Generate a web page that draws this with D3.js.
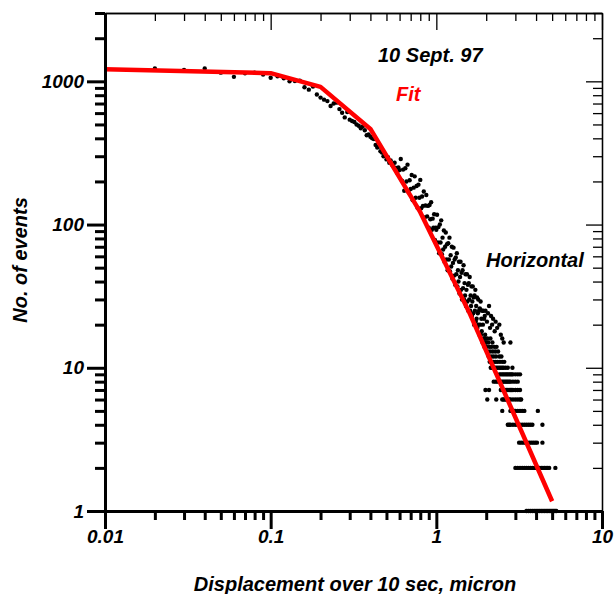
<!DOCTYPE html>
<html>
<head>
<meta charset="utf-8">
<script src="https://cdn.jsdelivr.net/npm/d3@7/dist/d3.min.js"></script>
<style>
  html, body { margin: 0; padding: 0; background: #fff; }
  text { font-family: "Liberation Sans", Arial, Helvetica, sans-serif; font-weight: bold; font-style: italic; }
</style>
</head>
<body>
<div id="chart"></div>
<script>
"use strict";

// histogram of displacements (one point per 0.01 micron bin)
var plateau = [
    [0.02, 1230], [0.03, 1200], [0.04, 1230], [0.05, 1150], [0.06, 1075], [0.07, 1140],
    [0.08, 1150], [0.09, 1115], [0.10, 1060], [0.11, 1085], [0.12, 1050], [0.13, 1000],
    [0.14, 1005], [0.15, 1010], [0.16, 910], [0.17, 875], [0.18, 920], [0.19, 810]
];

var kneeBand = [
    [0.20, 770], [0.21, 745], [0.22, 728], [0.23, 672], [0.24, 700], [0.25, 710], [0.26, 640],
    [0.27, 604], [0.28, 560], [0.29, 610], [0.30, 540], [0.31, 528], [0.32, 520], [0.33, 500],
    [0.34, 490], [0.35, 470], [0.36, 485], [0.37, 455], [0.38, 420], [0.39, 425], [0.40, 410],
    [0.41, 400], [0.42, 395], [0.43, 360], [0.44, 345], [0.45, 350], [0.46, 325], [0.47, 318],
    [0.48, 300], [0.49, 305], [0.50, 285], [0.51, 295], [0.52, 270], [0.53, 280], [0.54, 262],
    [0.55, 255], [0.56, 270], [0.57, 248], [0.58, 230], [0.59, 250], [0.60, 240], [0.61, 287],
    [0.62, 202], [0.63, 242], [0.64, 172], [0.65, 247], [0.66, 200], [0.67, 262], [0.68, 168],
    [0.69, 204], [0.70, 177], [0.71, 222], [0.72, 148], [0.73, 181], [0.74, 217], [0.75, 154],
    [0.76, 186], [0.77, 131], [0.78, 190], [0.79, 154], [0.80, 205], [0.81, 130], [0.82, 157],
    [0.83, 135], [0.84, 170], [0.85, 112], [0.86, 136], [0.87, 161], [0.88, 114], [0.89, 135],
    [0.90, 95], [0.91, 137], [0.92, 109], [0.93, 143], [0.94, 92], [0.95, 110], [0.96, 95],
    [0.97, 118], [0.98, 78], [0.99, 95]
];

var tailBand = [
    [1.00, 92], [1.01, 117], [1.02, 75], [1.03, 96], [1.04, 63], [1.05, 100], [1.06, 75], [1.07, 107],
    [1.08, 62], [1.09, 81], [1.10, 67], [1.11, 91], [1.12, 55], [1.13, 70], [1.14, 88], [1.15, 57],
    [1.16, 73], [1.17, 48], [1.18, 74], [1.19, 57], [1.20, 81], [1.21, 47], [1.22, 61], [1.23, 51],
    [1.24, 70], [1.25, 42], [1.26, 54], [1.27, 69], [1.28, 44], [1.29, 57], [1.30, 38], [1.31, 59],
    [1.32, 45], [1.33, 63], [1.34, 37], [1.35, 48], [1.36, 40], [1.37, 55], [1.38, 33], [1.39, 43],
    [1.40, 55], [1.41, 35], [1.42, 46], [1.43, 30], [1.44, 48], [1.45, 36], [1.46, 52], [1.47, 30],
    [1.48, 39], [1.49, 32], [1.50, 45], [1.51, 27], [1.52, 35], [1.53, 45], [1.54, 29], [1.55, 38],
    [1.56, 25], [1.57, 39], [1.58, 30], [1.59, 43], [1.60, 25], [1.61, 32], [1.62, 27], [1.63, 37],
    [1.64, 23], [1.65, 29], [1.66, 37], [1.67, 24], [1.68, 31], [1.69, 20], [1.70, 32], [1.71, 25],
    [1.72, 35], [1.73, 21], [1.74, 27], [1.75, 22], [1.76, 31], [1.77, 19], [1.78, 24], [1.79, 30],
    [1.80, 20], [1.81, 25], [1.82, 17], [1.83, 26], [1.84, 20], [1.85, 29], [1.86, 17], [1.87, 22],
    [1.88, 18], [1.89, 25], [1.90, 15], [1.91, 20], [1.92, 25], [1.93, 16], [1.94, 22], [1.95, 14],
    [1.96, 23], [1.97, 17], [1.98, 25], [1.99, 15]
];

var strays = [
    [2.02, 21], [2.05, 24], [2.08, 27], [2.11, 19], [2.14, 23], [2.17, 20], [2.20, 22],
    [2.25, 18], [2.28, 21], [2.33, 19], [2.40, 20], [2.45, 17], [2.50, 16], [2.55, 15], [2.80, 15]
];

// low counts: each count with the displacements where it occurs
var countRows = [
    [16, [1.96, 2.03, 2.12]],
    [15, [1.99, 2.06, 2.18]],
    [14, [2.01, 2.09, 2.15, 2.24, 2.31]],
    [13, [2.04, 2.11, 2.19, 2.27, 2.36]],
    [12, [2.07, 2.14, 2.21, 2.29, 2.40, 2.47]],
    [11, [2.10, 2.16, 2.22, 2.28, 2.34, 2.42, 2.50, 2.57]],
    [10, [2.13, 2.17, 2.21, 2.25, 2.30, 2.35, 2.40, 2.45, 2.50, 2.55, 2.62, 2.70, 2.88]],
    [9, [2.40, 2.45, 2.50, 2.55, 2.60, 2.65, 2.70, 2.75, 2.80, 2.85, 2.90, 3.00, 3.10, 3.20]],
    [8, [2.22, 2.28, 2.34, 2.40, 2.45, 2.50, 2.55, 2.60, 2.65, 2.70, 2.75, 2.80, 2.90, 3.00, 3.10]],
    [7, [1.98, 2.08, 2.45, 2.50, 2.55, 2.60, 2.65, 2.70, 2.75, 2.80, 2.85, 2.90, 3.00, 3.10, 3.20]],
    [6, [2.03, 2.30, 2.50, 2.55, 2.60, 2.65, 2.70, 2.75, 2.80, 2.90, 3.00, 3.10, 3.20, 3.25]],
    [5, [2.50, 2.80, 2.85, 2.90, 2.95, 3.00, 3.10, 3.20, 3.30, 3.40, 4.10]],
    [4, [2.70, 2.75, 2.80, 2.90, 3.00, 3.10, 3.20, 3.30, 3.40, 3.50, 3.60, 3.70, 3.80, 4.37]],
    [3, [3.16, 3.25, 3.35, 3.45, 3.55, 3.65, 3.75, 3.85, 3.95, 4.05, 4.37]],
    [2, [3.00, 3.10, 3.20, 3.30, 3.40, 3.50, 3.60, 3.70, 3.80, 3.90, 4.00, 4.10, 4.20, 4.30,
         4.40, 4.50, 4.60, 4.70, 4.80, 5.23]],
    [1, [3.50, 3.60, 3.70, 3.80, 3.90, 4.00, 4.10, 4.20, 4.30, 4.40, 4.50, 4.60, 4.70, 4.80,
         4.90, 5.00, 5.10, 5.20, 5.30]]
];

// fitted curve (red)
var fitPoints = [[0.01, 1215], [0.1, 1140], [0.2, 915], [0.4, 465], [0.8, 122], [1.6, 23.6], [5, 1.17]];

// ticks
var xMajor = [0.01, 0.1, 1, 10];
var xMinor = [0.02, 0.03, 0.04, 0.05, 0.06, 0.07, 0.08, 0.09,
              0.2, 0.3, 0.4, 0.5, 0.6, 0.7, 0.8, 0.9,
              2, 3, 4, 5, 6, 7, 8, 9];
var yMajor = [1, 10, 100, 1000];
var yMinor = [2, 3, 4, 5, 6, 7, 8, 9, 20, 30, 40, 50, 60, 70, 80, 90,
              200, 300, 400, 500, 600, 700, 800, 900, 2000, 3000];

var largeur = 616, hauteur = 594;
var gauche = 105, droite = 602, haut = 13, bas = 511;

var svg = d3.select("#chart").append("svg")
    .attr("width", largeur).attr("height", hauteur);
svg.append("rect").attr("width", largeur).attr("height", hauteur).attr("fill", "#fff");

var x = d3.scaleLog().domain([0.01, 10]).range([gauche, droite]);
var y = d3.scaleLog().domain([1, 3000]).range([bas, haut]);

// all the measured points in one list
var points = plateau.concat(kneeBand, tailBand, strays);
countRows.forEach(function(row) {
    row[1].forEach(function(d) { points.push([d, row[0]]); });
});

svg.append("g").selectAll("circle").data(points).enter().append("circle")
    .attr("cx", function(d) { return x(d[0]); })
    .attr("cy", function(d) { return y(d[1]); })
    .attr("r", 2.2)
    .attr("fill", "#000");

var ligne = d3.line()
    .x(function(d) { return x(d[0]); })
    .y(function(d) { return y(d[1]); });

svg.append("path").datum(fitPoints)
    .attr("d", ligne)
    .attr("fill", "none")
    .attr("stroke", "#ff0000")
    .attr("stroke-width", 4.5)
    .attr("stroke-linejoin", "round");

// axes : left and bottom thick, top and right thin with inward ticks
function styleAxe(g, epaisseur) {
    g.selectAll("line").attr("stroke", "#000").attr("stroke-width", epaisseur);
    g.select(".domain").attr("stroke", "#000").attr("stroke-width", epaisseur);
    g.selectAll("text")
        .attr("fill", "#000")
        .style("font-family", "'Liberation Sans', Arial, sans-serif")
        .style("font-weight", "bold").style("font-style", "italic").style("font-size", "19px");
}

var fmt = function(d) { return String(d); };

svg.append("g").attr("transform", "translate(0," + haut + ")")
    .call(d3.axisTop(x).tickValues(xMinor).tickSize(-8).tickSizeOuter(0).tickFormat(""))
    .call(styleAxe, 1.3);
svg.append("g").attr("transform", "translate(0," + haut + ")")
    .call(d3.axisTop(x).tickValues(xMajor).tickSize(-17).tickSizeOuter(0).tickFormat(""))
    .call(styleAxe, 1.3);

svg.append("g").attr("transform", "translate(" + droite + ",0)")
    .call(d3.axisRight(y).tickValues(yMinor).tickSize(-9).tickSizeOuter(0).tickFormat(""))
    .call(styleAxe, 1.3);
svg.append("g").attr("transform", "translate(" + droite + ",0)")
    .call(d3.axisRight(y).tickValues(yMajor).tickSize(-16).tickSizeOuter(0).tickFormat(""))
    .call(styleAxe, 1.3);

svg.append("g").attr("transform", "translate(" + gauche + ",0)")
    .call(d3.axisLeft(y).tickValues(yMinor).tickSize(10).tickSizeOuter(0).tickFormat(""))
    .call(styleAxe, 3);
svg.append("g").attr("transform", "translate(" + gauche + ",0)")
    .call(d3.axisLeft(y).tickValues(yMajor).tickSize(18).tickSizeOuter(0).tickPadding(3).tickFormat(fmt))
    .call(styleAxe, 3);

svg.append("g").attr("transform", "translate(0," + bas + ")")
    .call(d3.axisBottom(x).tickValues(xMinor).tickSize(9).tickSizeOuter(0).tickFormat(""))
    .call(styleAxe, 3);
svg.append("g").attr("transform", "translate(0," + bas + ")")
    .call(d3.axisBottom(x).tickValues(xMajor).tickSize(18).tickSizeOuter(0).tickPadding(1).tickFormat(fmt))
    .call(styleAxe, 3);

// titles and notes
svg.append("text")
    .attr("transform", "translate(27,260) rotate(-90)")
    .attr("text-anchor", "middle")
    .style("font-size", "20px")
    .text("No. of events");

svg.append("text")
    .attr("x", 355).attr("y", 591)
    .attr("text-anchor", "middle")
    .style("font-size", "20px")
    .text("Displacement over 10 sec, micron");

svg.append("text").attr("x", 378).attr("y", 62).style("font-size", "20px").text("10 Sept. 97");
svg.append("text").attr("x", 396).attr("y", 101).style("font-size", "20px").attr("fill", "#ff0000").text("Fit");
svg.append("text").attr("x", 486).attr("y", 267).style("font-size", "20px").text("Horizontal");
</script>
</body>
</html>
